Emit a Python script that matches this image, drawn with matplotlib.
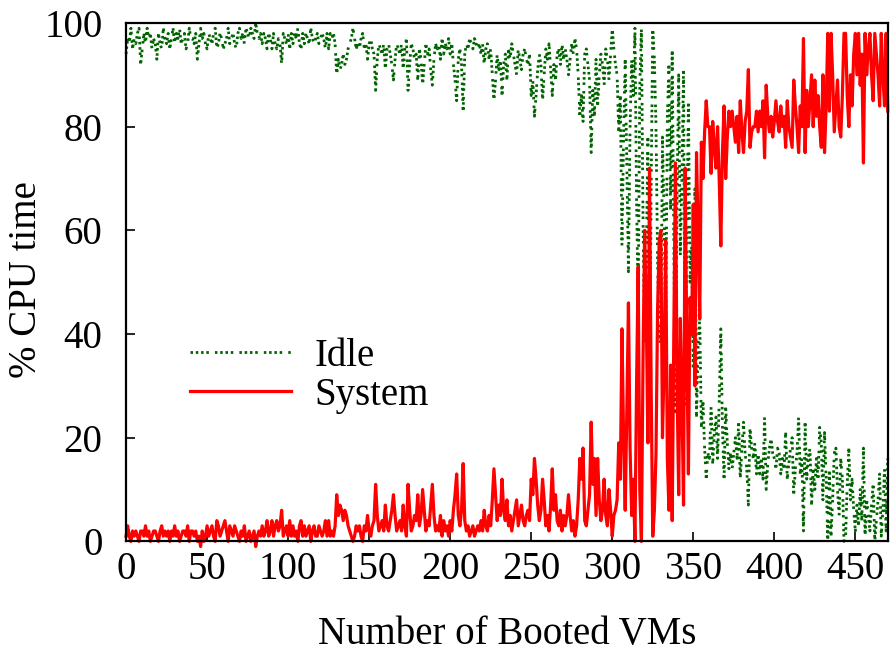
import numpy as np
import matplotlib
matplotlib.use("Agg")
import matplotlib.pyplot as plt

plt.rcParams["font.family"] = ["Liberation Serif", "DejaVu Serif"]

# ── data: one sample per booted VM ───────────────────────────────────────────
system = [
    1, 3, 1, 0, 2, 1, 2, 1, 0, 2,
    2, 1, 3, 1, 2, 0, 1, 2, 2, 1,
    0, 2, 3, 1, 2, 1, 2, 0, 2, 1,
    3, 1, 2, 0, 1, 2, 2, 1, 3, 0, 2,
    2, 1, 2, 0, 1, -1, 2, 0, 1, 3,
    1, 2, 3, 1, 0, 4, 3, 1, 2, 3,
    4, 2, 0, 3, 2, 1, 3, 2, 1, 0,
    2, 1, 3, 0, 1, 2, 0, 1, 2, -1,
    1, 2, 1, 3, 1, 2, 4, 1, 2, 4,
    1, 3, 4, 2, 3, 6, 1, 2, 3, 1,
    4, 1, 3, 1, 2, 0, 3, 4, 1, 3,
    1, 2, 3, 0, 2, 3, 1, 1, 3, 2, 1,
    2, 4, 1, 4, 1, 2, 1, 3, 9, 5,
    7, 6, 4, 6, 5, 3, 2, 1, 0, 1,
    3, 2, 3, 1, 0, 3, 2, 5, 2, 1,
    3, 4, 11, 5, 2, 3, 4, 2, 7, 3,
    2, 4, 6, 9, 5, 2, 3, 4, 2, 7,
    3, 1, 11, 6, 2, 3, 5, 4, 9, 3,
    5, 10, 6, 2, 4, 3, 7, 11, 5, 2,
    3, 2, 5, 1, 4, 2, 3, 1, 4, 2, 6,
    9, 13, 5, 3, 6, 15, 4, 2, 3, 1,
    2, 3, 1, 2, 3, 2, 4, 2, 6, 3,
    2, 5, 3, 8, 14, 9, 4, 7, 5, 12,
    6, 4, 8, 3, 5, 2, 4, 6, 8, 3,
    5, 7, 4, 3, 5, 6, 4, 12, 9, 16,
    12, 7, 4, 6, 12, 8, 3, 5, 2, 7,
    14, 6, 9, 4, 3, 6, 2, 5, 3, 5, 9,
    5, 2, 4, 1, 3, 8, 16, 12, 18, 4,
    3, 6, 9, 23, 11, 16, 5, 16, 8, 4,
    6, 12, 5, 3, 10, 6, 1, 5, 6, 8,
    19, 12, 41, 20, 6, 25, 46, 18, 5, 12,
    0, 30, 53, 10, 0, 35, 60, 44, 19, 72,
    30, 1, 6, 17, 45, 58, 60, 20, 34, 58,
    16, 6, 34, 4, 40, 73, 30, 9, 43, 27,
    7, 72, 38, 13, 47, 40, 65, 30, 75, 60,
    43, 77, 70, 79, 85, 80, 80, 71, 81, 76,
    72, 80, 70, 57, 75, 84, 70, 78, 83, 80,
    83, 80, 77, 82, 75, 85, 79, 75, 81, 83, 91,
    76, 79, 80, 80, 83, 79, 83, 80, 85, 74,
    88, 82, 79, 82, 78, 81, 85, 81, 79, 84,
    80, 82, 76, 85, 80, 78, 76, 89, 84, 80,
    75, 84, 80, 97, 75, 87, 80, 85, 90, 80,
    89, 82, 86, 80, 76, 90, 75, 84, 98, 83,
    98, 90, 79, 84, 89, 80, 78, 86, 98, 98, 86,
    80, 90, 84, 94, 98, 90, 98, 88, 94, 73,
    98, 90, 95, 98, 90, 85, 98, 94, 90, 84,
    98, 90, 84, 98, 83,
]

idle = [
    94, 97, 96, 99, 95, 97, 96, 98, 99, 92,
    95, 98, 96, 99, 97, 98, 95, 97, 96, 93,
    98, 96, 95, 99, 97, 96, 98, 95, 97, 99,
    96, 98, 97, 99, 96, 97, 98, 95, 96, 99, 97,
    97, 96, 98, 93, 96, 99, 97, 98, 96, 95,
    98, 97, 96, 98, 99, 95, 96, 98, 97, 95,
    96, 97, 99, 96, 97, 98, 96, 95, 98, 99,
    97, 98, 96, 99, 98, 97, 99, 98, 97, 100,
    98, 97, 98, 96, 98, 97, 95, 98, 97, 95,
    98, 96, 95, 97, 96, 92, 98, 97, 96, 98,
    95, 98, 96, 98, 97, 99, 96, 95, 98, 96,
    98, 97, 96, 99, 97, 96, 97, 98, 96, 97, 98,
    97, 95, 98, 95, 98, 97, 98, 96, 90, 93,
    91, 92, 94, 92, 93, 95, 96, 97, 99, 97,
    95, 96, 95, 97, 98, 95, 96, 93, 96, 97,
    95, 94, 87, 93, 96, 95, 94, 96, 91, 95,
    96, 94, 92, 89, 93, 96, 95, 94, 96, 91,
    95, 97, 87, 92, 96, 95, 93, 94, 89, 95,
    93, 88, 92, 96, 94, 95, 91, 88, 93, 96,
    95, 96, 93, 97, 94, 96, 95, 97, 94, 96, 92,
    89, 85, 93, 95, 92, 83, 94, 96, 95, 97,
    96, 95, 97, 96, 95, 96, 94, 96, 92, 95,
    96, 93, 95, 90, 85, 89, 94, 91, 93, 86,
    92, 94, 89, 95, 93, 96, 94, 92, 90, 95,
    93, 91, 94, 95, 93, 92, 94, 86, 89, 82,
    86, 91, 94, 92, 85, 90, 95, 93, 96, 91,
    86, 92, 89, 94, 95, 92, 96, 93, 95, 93, 90,
    93, 96, 94, 97, 95, 90, 82, 86, 81, 94,
    95, 92, 89, 75, 87, 82, 93, 84, 90, 94,
    92, 88, 95, 93, 89, 94, 99, 95, 92, 90,
    79, 86, 57, 78, 93, 73, 52, 80, 93, 86,
    99, 66, 45, 88, 99, 62, 38, 54, 78, 26,
    68, 99, 93, 80, 54, 40, 38, 78, 63, 40,
    82, 92, 64, 95, 58, 25, 68, 90, 55, 70,
    91, 26, 60, 85, 50, 57, 33, 68, 24, 38,
    43, 22, 27, 18, 12, 17, 16, 26, 15, 21,
    24, 16, 27, 41, 22, 12, 26, 19, 14, 17,
    14, 17, 20, 16, 23, 12, 18, 23, 17, 14, 7,
    22, 18, 16, 19, 13, 17, 13, 16, 12, 24,
    10, 15, 18, 20, 17, 16, 14, 18, 17, 13,
    16, 14, 21, 12, 15, 18, 20, 9, 14, 17,
    24, 13, 16, 2, 23, 12, 16, 18, 7, 14,
    10, 16, 12, 22, 19, 8, 21, 12, 0, 14,
    1, 8, 17, 18, 10, 5, 16, 12, 0, 1, 11,
    18, 8, 12, 6, 2, 7, 3, 10, 4, 18,
    1, 8, 5, 2, 7, 11, 0, 4, 8, 13,
    1, 6, 14, 2, 16,
]

x_ticks = [0, 50, 100, 150, 200, 250, 300, 350, 400, 450]
y_ticks = [0, 20, 40, 60, 80, 100]

vms_sys = np.arange(len(system))
vms_idle = np.arange(len(idle))

FS = 28

# ── figure ───────────────────────────────────────────────────────────────────
fig = plt.figure(figsize=(8.94, 6.57), dpi=100)
ax = fig.add_axes([0.141, 0.176, 0.852, 0.789])

dotted = (0, (0.9, 1.0, 0.9, 1.0, 0.9, 1.0, 0.9, 2.2))
ax.plot(vms_idle, idle, color="#006400", lw=2.0, ls=dotted,
        label="Idle", clip_on=False)
ax.plot(vms_sys, system, color="#ff0000", lw=2.3, label="System",
        clip_on=False)

ax.set_xlim(0, 470)
ax.set_ylim(0, 100)
ax.set_xticks(x_ticks)
ax.set_yticks(y_ticks)

ax.tick_params(direction="in", length=6.5, width=1.2, labelsize=FS)
ax.tick_params(axis="x", pad=7)
ax.tick_params(axis="y", pad=17)
for sp in ax.spines.values():
    sp.set_linewidth(1.6)

ax.set_xlabel("Number of Booted VMs", fontsize=FS, labelpad=20)
ax.set_ylabel("% CPU time", fontsize=FS)
ax.yaxis.set_label_coords(-0.106, 0.505)

ax.legend(loc="center left", bbox_to_anchor=(0.084, 0.319), frameon=False,
          fontsize=FS, handlelength=2.6, handletextpad=0.6,
          borderpad=0, borderaxespad=0, labelspacing=0.05)

fig.savefig("out.png", dpi=100)
